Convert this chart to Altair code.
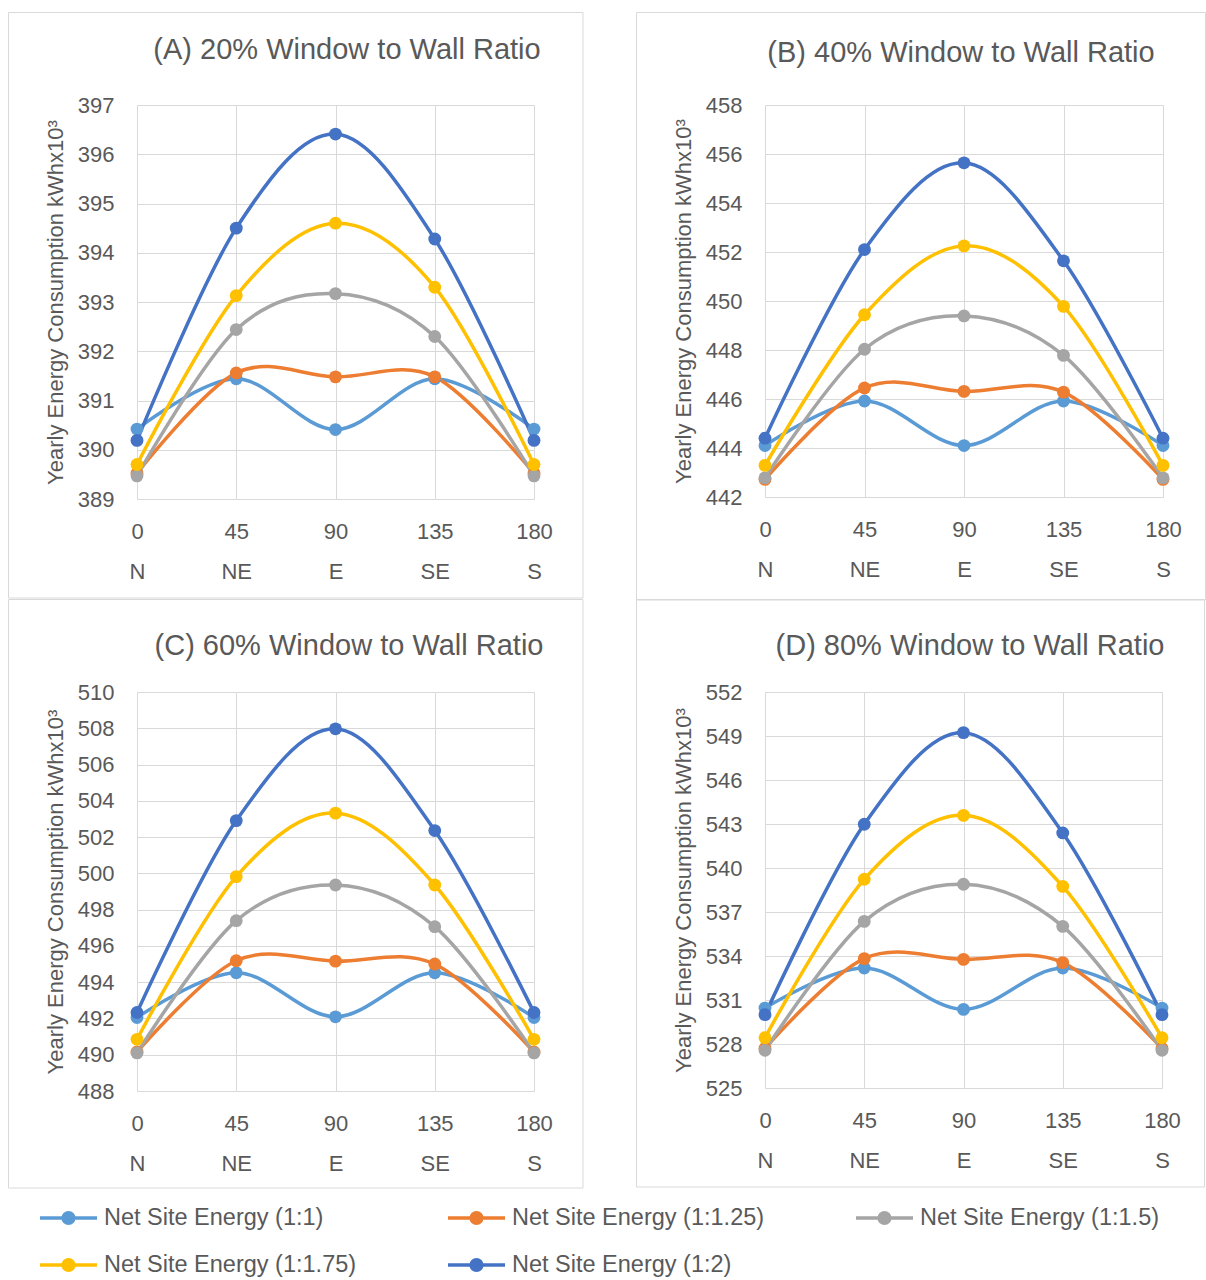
import altair as alt
import pandas as pd

FONT = "Liberation Sans"
TEXT = "#595959"
GRID = "#d9d9d9"

ANGLES = [0, 45, 90, 135, 180]
DIRECTIONS = ["N", "NE", "E", "SE", "S"]
SERIES = [
    "Net Site Energy (1:1)",
    "Net Site Energy (1:1.25)",
    "Net Site Energy (1:1.5)",
    "Net Site Energy (1:1.75)",
    "Net Site Energy (1:2)",
]
COLORS = ["#5B9BD5", "#ED7D31", "#A5A5A5", "#FFC000", "#4472C4"]
Y_TITLE = "Yearly Energy Consumption kWhx10³"

# legend grid: column and row of each entry
LEGEND_COL = [0, 1, 2, 0, 1]
LEGEND_ROW = [0, 0, 0, 1, 1]

# (A) 20% window to wall ratio
A_1_1 = [390.42, 391.44, 390.41, 391.44, 390.42]
A_1_125 = [389.52, 391.56, 391.48, 391.48, 389.52]
A_1_15 = [389.47, 392.44, 393.17, 392.30, 389.47]
A_1_175 = [389.70, 393.13, 394.60, 393.30, 389.70]
A_1_2 = [390.19, 394.50, 396.41, 394.28, 390.19]
A_TICKS = [389, 390, 391, 392, 393, 394, 395, 396, 397]

# (B) 40% window to wall ratio
B_1_1 = [444.10, 445.92, 444.10, 445.92, 444.10]
B_1_125 = [442.72, 446.45, 446.31, 446.28, 442.72]
B_1_15 = [442.78, 448.03, 449.39, 447.78, 442.78]
B_1_175 = [443.29, 449.44, 452.25, 449.78, 443.29]
B_1_2 = [444.40, 452.10, 455.64, 451.64, 444.40]
B_TICKS = [442, 444, 446, 448, 450, 452, 454, 456, 458]

# (C) 60% window to wall ratio
C_1_1 = [492.05, 494.52, 492.09, 494.52, 492.05]
C_1_125 = [490.15, 495.18, 495.16, 495.00, 490.15]
C_1_15 = [490.10, 497.39, 499.36, 497.06, 490.10]
C_1_175 = [490.85, 499.82, 503.32, 499.36, 490.85]
C_1_2 = [492.33, 502.91, 507.97, 502.36, 492.33]
C_TICKS = [488, 490, 492, 494, 496, 498, 500, 502, 504, 506, 508, 510]

# (D) 80% window to wall ratio
D_1_1 = [530.45, 533.18, 530.36, 533.18, 530.45]
D_1_125 = [527.70, 533.82, 533.77, 533.55, 527.70]
D_1_15 = [527.57, 536.36, 538.89, 536.02, 527.57]
D_1_175 = [528.43, 539.23, 543.59, 538.75, 528.43]
D_1_2 = [530.00, 542.98, 549.23, 542.39, 530.00]
D_TICKS = [525, 528, 531, 534, 537, 540, 543, 546, 549, 552]

COLOR_SCALE = alt.Scale(domain=SERIES, range=COLORS)

dir_expr = "".join(
    f"datum.value=={a}?'{d}':" for a, d in zip(ANGLES[:-1], DIRECTIONS[:-1])
) + f"'{DIRECTIONS[-1]}'"
x_label_expr = f"[format(datum.value,'d'), {dir_expr}]"


def frame_df(series_values):
    rows = []
    for name, vals in zip(SERIES, series_values):
        for a, v in zip(ANGLES, vals):
            rows.append({"series": name, "angle": a, "value": v})
    return pd.DataFrame(rows)


def legend_layer():
    """Line-and-dot key laid out in a 3-column grid below the panels."""
    df = pd.DataFrame({"series": SERIES, "col": LEGEND_COL, "row": LEGEND_ROW})
    base = alt.Chart(df).encode(
        x=alt.X("col:Q", scale=alt.Scale(domain=[0, 2], range=[-97, 719]), axis=None),
        y=alt.Y("row:Q", scale=alt.Scale(domain=[0, 1], range=[526, 573]), axis=None),
        color=alt.Color("series:N", scale=COLOR_SCALE, legend=None),
    )
    seg = base.mark_rule(strokeWidth=3.5, x2Offset=57).encode(x2=alt.X2("col"))
    dot = base.mark_circle(size=200, opacity=1, xOffset=28.5)
    lab = base.mark_text(
        font=FONT, fontSize=23.5, color=TEXT, align="left", baseline="middle", dx=64
    ).encode(text="series:N", color=alt.value(TEXT))
    return alt.layer(seg, dot, lab)


def panel(title, series_values, ticks, w, h, title_x, title_y, right_ext, bottom_ext, with_key=False):
    df = frame_df(series_values)
    base = alt.Chart(df).encode(
        x=alt.X(
            "angle:Q",
            scale=alt.Scale(domain=[ANGLES[0], ANGLES[-1]], nice=False, zero=False),
            axis=alt.Axis(
                values=ANGLES,
                labelExpr=x_label_expr,
                labelLineHeight=40,
                labelPadding=22,
                labelFlush=False,
                labelOverlap=False,
                labelFontSize=22,
                title=None,
            ),
        ),
        y=alt.Y(
            "value:Q",
            scale=alt.Scale(domain=[ticks[0], ticks[-1]], nice=False, zero=False),
            axis=alt.Axis(
                values=ticks,
                labelPadding=23,
                labelFontSize=22,
                title=Y_TITLE,
                titleFontSize=22,
                titlePadding=10,
            ),
        ),
    )
    one = pd.DataFrame({"k": [0]})
    border = (
        alt.Chart(one)
        .mark_rect(fillOpacity=0, stroke=GRID, strokeWidth=1)
        .encode(
            x=alt.value(-128.5),
            x2=alt.value(w + right_ext),
            y=alt.value(-92.5),
            y2=alt.value(h + bottom_ext),
        )
    )
    heading = (
        alt.Chart(one)
        .mark_text(font=FONT, fontSize=29, color=TEXT, align="center", baseline="middle")
        .encode(x=alt.value(title_x), y=alt.value(title_y), text=alt.value(title))
    )
    lines = base.mark_line(
        interpolate="cardinal", strokeWidth=3.5, strokeCap="round"
    ).encode(color=alt.Color("series:N", scale=COLOR_SCALE, legend=None))
    points = base.mark_circle(size=165, opacity=1).encode(
        color=alt.Color("series:N", scale=COLOR_SCALE, legend=None)
    )
    body = alt.layer(border, heading, lines, points)
    if with_key:
        body = alt.layer(body, legend_layer()).resolve_scale(x="independent", y="independent")
    return body.properties(width=w, height=h)


pa = panel("(A) 20% Window to Wall Ratio",
           [A_1_1, A_1_125, A_1_15, A_1_175, A_1_2], A_TICKS, 397, 394, 210, -55, 49, 99)
pb = panel("(B) 40% Window to Wall Ratio",
           [B_1_1, B_1_125, B_1_15, B_1_175, B_1_2], B_TICKS, 398, 392, 196, -52, 42.5, 103)
pc = panel("(C) 60% Window to Wall Ratio",
           [C_1_1, C_1_125, C_1_15, C_1_175, C_1_2], C_TICKS, 397, 399, 212, -46, 49, 97,
           with_key=True)
pd_ = panel("(D) 80% Window to Wall Ratio",
            [D_1_1, D_1_125, D_1_15, D_1_175, D_1_2], D_TICKS, 397, 396, 205, -46, 42.5, 99)

chart = (
    alt.concat(
        pa, pb, pc, pd_,
        columns=2,
        spacing=alt.RowColnumber(row=193, column=231),
        bounds="flush",
        align="each",
    )
    .resolve_scale(color="shared")
    .properties(padding={"left": 8, "top": 12, "right": 0, "bottom": 0}, background="white")
    .configure_view(strokeWidth=0)
    .configure_axis(
        labelFont=FONT,
        titleFont=FONT,
        labelColor=TEXT,
        titleColor=TEXT,
        titleFontWeight="normal",
        grid=True,
        gridColor=GRID,
        gridWidth=1,
        domain=False,
        ticks=False,
        tickSize=0,
    )
)

chart.save("out.html", embed_options={"renderer": "svg", "actions": False})
